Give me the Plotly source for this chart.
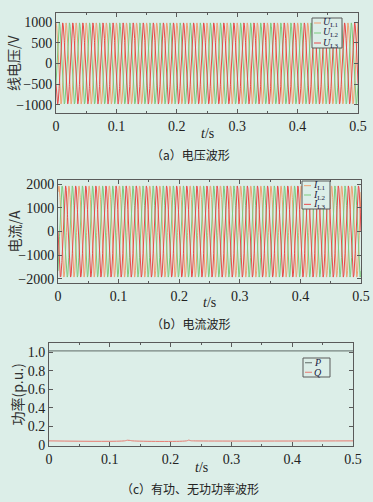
import numpy as np
import plotly.graph_objects as go

# ---- data ----
x_ticks = [0, 0.1, 0.2, 0.3, 0.4, 0.5]
x_ticklabels = ["0", "0.1", "0.2", "0.3", "0.4", "0.5"]

freq_hz = 60.0                       # estimated grid frequency
volt_letters = ["U", "U", "U"]
volt_subs = ["L1", "L2", "L3"]
volt_amp = [980, 980, 980]           # peak line voltage (V)
volt_phase_deg = [90, -30, 210]      # phase of each line voltage
curr_letters = ["I", "I", "I"]
curr_subs = ["L1", "L2", "L3"]
curr_amp = [1920, 1920, 1920]        # peak line current (A)
curr_phase_deg = [60, -60, 180]
phase_colors = ["#F0A070", "#7CCB7C", "#E84A4A"]

volt_ticks = [-1000, -500, 0, 500, 1000]
volt_ticklabels = ["\u22121000", "\u2212500", "0", "500", "1000"]
curr_ticks = [-2000, -1000, 0, 1000, 2000]
curr_ticklabels = ["\u22122000", "\u22121000", "0", "1000", "2000"]
pow_ticks = [0, 0.2, 0.4, 0.6, 0.8, 1.0]
pow_ticklabels = ["0", "0.2", "0.4", "0.6", "0.8", "1.0"]

pow_letters = ["P", "Q"]
pow_subs = ["", ""]
pow_colors = ["#5E6A66", "#E87A70"]
p_time = [0, 0.1, 0.2, 0.3, 0.4, 0.5]
p_vals = [1.012, 1.012, 1.012, 1.012, 1.012, 1.012]
q_time = [0, 0.124, 0.129, 0.133, 0.138, 0.226, 0.230, 0.233, 0.238, 0.5]
q_vals = [0.045, 0.045, 0.052, 0.050, 0.045, 0.045, 0.053, 0.047, 0.045, 0.045]

BG = "#DCEEE8"
FRAME = "#5A5A5A"
SERIF = "Liberation Serif, Times New Roman, serif"
CJK = "Noto Sans CJK SC, sans-serif"

t = np.linspace(0, 0.5, 3001)

fig = go.Figure()

W, H = 373, 502
def px(x):
    return x / W
def py(y):
    return 1 - y / H

panels = [
    dict(x0=56, x1=358, y0=13, y1=113, yr=[-1200, 1220], yt=volt_ticks, ytl=volt_ticklabels,
         ytitle="线电压/V", ytx=13, tty=133, cap="（a）电压波形", capy=155),
    dict(x0=58, x1=361, y0=180, y1=283, yr=[-2170, 2170], yt=curr_ticks, ytl=curr_ticklabels,
         ytitle="电流/A", ytx=13, tty=302, cap="（b）电流波形", capy=323),
    dict(x0=49, x1=353, y0=343, y1=446, yr=[-0.01, 1.097], yt=pow_ticks, ytl=pow_ticklabels,
         ytitle="功率(p.u.)", ytx=16, tty=467, cap="（c）有功、无功功率波形", capy=488),
]

w = 2 * np.pi * freq_hz
for i in range(3):
    fig.add_trace(go.Scatter(x=t, y=volt_amp[i] * np.sin(w * t + np.deg2rad(volt_phase_deg[i])),
                             mode="lines", line=dict(color=phase_colors[i], width=1),
                             xaxis="x", yaxis="y", showlegend=False, hoverinfo="skip"))
for i in range(3):
    fig.add_trace(go.Scatter(x=t, y=curr_amp[i] * np.sin(w * t + np.deg2rad(curr_phase_deg[i])),
                             mode="lines", line=dict(color=phase_colors[i], width=1),
                             xaxis="x2", yaxis="y2", showlegend=False, hoverinfo="skip"))
fig.add_trace(go.Scatter(x=p_time, y=p_vals, mode="lines", line=dict(color=pow_colors[0], width=1),
                         xaxis="x3", yaxis="y3", showlegend=False, hoverinfo="skip"))
fig.add_trace(go.Scatter(x=q_time, y=q_vals, mode="lines", line=dict(color=pow_colors[1], width=1),
                         xaxis="x3", yaxis="y3", showlegend=False, line_shape="spline", hoverinfo="skip"))

layout = dict(width=W, height=H, margin=dict(l=0, r=0, t=0, b=0, pad=0, autoexpand=False),
              autosize=False, paper_bgcolor=BG, plot_bgcolor=BG, showlegend=False)

annotations = []
shapes = []
for k, p in enumerate(panels):
    sx = "" if k == 0 else str(k + 1)
    layout["xaxis" + sx] = dict(
        domain=[px(p["x0"]), px(p["x1"])], range=[0, 0.5], anchor="y" + sx, automargin=False,
        tickvals=x_ticks, ticktext=x_ticklabels, ticks="inside", ticklen=4, tickcolor=FRAME,
        showline=True, linecolor=FRAME, linewidth=1, mirror="ticks", showgrid=False, zeroline=False,
        minor=dict(dtick=0.05, tick0=0, ticks="inside", ticklen=2, tickcolor=FRAME),
        tickfont=dict(family=SERIF, size=14, color="#222"))
    layout["yaxis" + sx] = dict(
        domain=[py(p["y1"]), py(p["y0"])], range=p["yr"], anchor="x" + sx, automargin=False,
        tickvals=p["yt"], ticktext=p["ytl"], ticks="inside", ticklen=4, tickcolor=FRAME,
        showline=True, linecolor=FRAME, linewidth=1, mirror="ticks", showgrid=False, zeroline=False,
        tickfont=dict(family=SERIF, size=14, color="#222"))
    cy = (p["y0"] + p["y1"]) / 2
    annotations.append(dict(x=px(p["ytx"]), y=py(cy), xref="paper", yref="paper", text=p["ytitle"],
                            xanchor="center", yanchor="middle",
                            textangle=-90, showarrow=False, font=dict(family=CJK, size=14, color="#333")))
    cx = (p["x0"] + p["x1"]) / 2
    annotations.append(dict(x=px(cx), y=py(p["tty"]), xref="paper", yref="paper",
                            xanchor="center", yanchor="middle",
                            text="<i>t</i>/s", showarrow=False, font=dict(family=SERIF, size=14, color="#222")))
    annotations.append(dict(x=px(190), y=py(p["capy"]), xref="paper", yref="paper", text=p["cap"],
                            xanchor="center", yanchor="middle",
                            showarrow=False, font=dict(family=CJK, size=12, color="#222")))

def add_legend(x0, y0, x1, y1, letters, subs, colors):
    shapes.append(dict(type="rect", xref="paper", yref="paper", x0=px(x0), x1=px(x1), y0=py(y1), y1=py(y0),
                       line=dict(color=FRAME, width=1), fillcolor=BG))
    n = len(letters)
    step = (y1 - y0) / n
    for j in range(n):
        yy = y0 + step * (j + 0.5)
        shapes.append(dict(type="line", xref="paper", yref="paper", x0=px(x0 + 2), x1=px(x0 + 9),
                           y0=py(yy), y1=py(yy), line=dict(color=colors[j], width=1)))
        txt = "<i>" + letters[j] + "</i>" + ("<sub>" + subs[j] + "</sub>" if subs[j] else "")
        annotations.append(dict(x=px(x0 + 10), y=py(yy), xref="paper", yref="paper", xanchor="left",
                                yanchor="middle", text=txt, borderpad=0,
                                showarrow=False, font=dict(family=SERIF, size=10, color="#1A2040")))

add_legend(312, 18, 342, 48, volt_letters, volt_subs, phase_colors)
add_legend(302, 181, 330, 209, curr_letters, curr_subs, phase_colors)
add_legend(303, 358, 330, 377, pow_letters, pow_subs, pow_colors)

layout["annotations"] = annotations
layout["shapes"] = shapes
fig.update_layout(**layout)
fig.write_html(
    "out.html",
    config={"displayModeBar": False, "responsive": False},
    post_script="var d=document.getElementById('{plot_id}');d.style.position='fixed';"
                "d.style.left='0px';d.style.top='0px';",
)
